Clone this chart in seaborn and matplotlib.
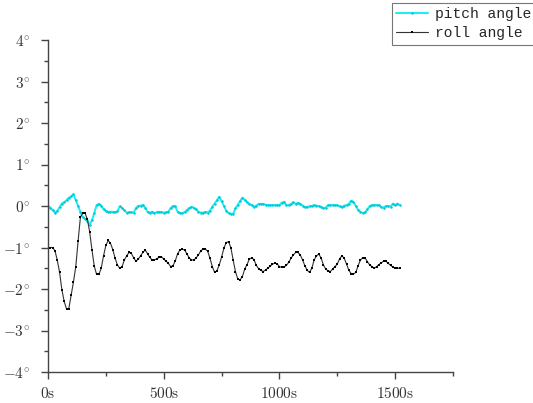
import numpy as np
import pandas as pd
import seaborn as sns
import matplotlib
matplotlib.use("Agg")
import matplotlib.pyplot as plt
from matplotlib.ticker import MultipleLocator

# ----- Data (one sample every 10 s) ----- #
time_s = list(range(0, 1530, 10))

pitch_deg = [
    0.0, -0.04, -0.1, -0.16, -0.12, -0.03, 0.06, 0.09, 0.14, 0.2,
    0.23, 0.28, 0.14, 0.0, -0.14, -0.27, -0.31, -0.36, -0.45, -0.34,
    -0.17, 0.02, 0.05, 0.01, -0.08, -0.12, -0.14, -0.14, -0.14, -0.15,
    -0.13, -0.01, -0.05, -0.1, -0.16, -0.15, -0.15, -0.16, -0.05, 0.0,
    0.01, 0.02, -0.04, -0.14, -0.16, -0.14, -0.17, -0.15, -0.14, -0.15,
    -0.16, -0.15, -0.14, -0.05, 0.0, -0.01, -0.14, -0.17, -0.17, -0.15,
    -0.1, -0.05, -0.02, -0.04, -0.08, -0.14, -0.16, -0.16, -0.14, -0.16,
    -0.11, -0.02, 0.06, 0.14, 0.22, 0.12, 0.0, -0.11, -0.17, -0.19,
    -0.19, -0.06, 0.03, 0.12, 0.2, 0.15, 0.09, 0.05, 0.02, -0.02,
    0.01, 0.05, 0.05, 0.05, 0.03, 0.02, 0.02, 0.02, 0.02, 0.02,
    0.02, 0.08, 0.1, 0.02, 0.02, 0.05, 0.09, 0.05, 0.08, 0.05,
    0.01, -0.03, -0.02, -0.01, 0.0, 0.02, 0.01, 0.0, -0.02, -0.05,
    -0.04, 0.02, 0.02, 0.02, 0.02, 0.02, -0.01, -0.03, 0.01, 0.02,
    0.05, 0.13, 0.1, 0.0, -0.09, -0.14, -0.17, -0.15, -0.08, 0.0,
    0.02, 0.02, 0.02, 0.02, -0.03, -0.04, 0.0, 0.0, -0.02, 0.06,
    0.02, 0.06, 0.02,
]

roll_deg = [
    -1.0, -1.0, -1.0, -1.08, -1.3, -1.6, -2.02, -2.3, -2.48, -2.47,
    -2.15, -1.83, -1.46, -0.85, -0.27, -0.17, -0.17, -0.32, -0.62, -1.06,
    -1.45, -1.65, -1.65, -1.5, -1.2, -0.95, -0.83, -0.9, -1.05, -1.26,
    -1.42, -1.5, -1.46, -1.3, -1.2, -1.12, -1.14, -1.25, -1.33, -1.28,
    -1.2, -1.12, -1.06, -1.15, -1.24, -1.3, -1.3, -1.27, -1.24, -1.22,
    -1.28, -1.33, -1.38, -1.46, -1.44, -1.32, -1.15, -1.06, -1.04, -1.06,
    -1.15, -1.25, -1.3, -1.3, -1.25, -1.18, -1.08, -1.04, -1.04, -1.09,
    -1.26, -1.46, -1.6, -1.56, -1.42, -1.23, -1.02, -0.88, -0.86, -1.0,
    -1.3, -1.58, -1.76, -1.78, -1.7, -1.52, -1.41, -1.28, -1.25, -1.29,
    -1.43, -1.51, -1.55, -1.58, -1.54, -1.5, -1.45, -1.4, -1.38, -1.39,
    -1.46, -1.48, -1.47, -1.43, -1.36, -1.26, -1.18, -1.12, -1.12, -1.18,
    -1.3, -1.44, -1.55, -1.6, -1.5, -1.3, -1.2, -1.16, -1.25, -1.42,
    -1.52, -1.56, -1.58, -1.52, -1.46, -1.4, -1.27, -1.2, -1.26, -1.4,
    -1.55, -1.63, -1.64, -1.6, -1.44, -1.3, -1.25, -1.25, -1.34, -1.42,
    -1.46, -1.5, -1.46, -1.41, -1.37, -1.33, -1.33, -1.38, -1.43, -1.47,
    -1.5, -1.5, -1.5,
]

y_ticks = [-4, -3, -2, -1, 0, 1, 2, 3, 4]
x_ticks = [0, 500, 1000, 1500]

df = pd.DataFrame({"t": time_s, "pitch": pitch_deg, "roll": roll_deg})

# ----- Style ----- #
sns.set_style("ticks")
plt.rcParams["mathtext.fontset"] = "cm"
plt.rcParams["font.family"] = ["DejaVu Serif"]

fig = plt.figure(figsize=(5.33, 4.03), dpi=100)
ax = fig.add_axes([48 / 533, 31 / 403, 405 / 533, 332 / 403])

sns.lineplot(data=df, x="t", y="pitch", ax=ax, color="#18eef4", lw=1.4,
             marker="o", markersize=1.8, markeredgewidth=0,
             markerfacecolor="#00c8d8", label="pitch angle")
sns.lineplot(data=df, x="t", y="roll", ax=ax, color="#333333", lw=0.8,
             marker="s", markersize=1.7, markeredgewidth=0,
             markerfacecolor="black", label="roll angle")

ax.set_xlim(0, 1750)
ax.set_ylim(-4, 4)
ax.set_xlabel("")
ax.set_ylabel("")

ax.set_yticks(y_ticks)
ax.set_yticklabels([r"$%d^{\circ}$" % v for v in y_ticks])
ax.set_xticks(x_ticks)
ax.set_xticklabels([r"$%d\mathrm{s}$" % v for v in x_ticks])
ax.xaxis.set_minor_locator(MultipleLocator(250))
ax.yaxis.set_minor_locator(MultipleLocator(0.5))

for side in ["top", "right"]:
    ax.spines[side].set_visible(False)
for side in ["left", "bottom"]:
    ax.spines[side].set_color("#444444")
    ax.spines[side].set_linewidth(1.0)

ax.tick_params(axis="y", which="major", length=5, width=1.0, pad=8,
               color="#444444", labelsize=11, labelcolor="#333333")
ax.tick_params(axis="x", which="major", length=5, width=1.0, pad=5,
               color="#444444", labelsize=11, labelcolor="#333333")
ax.tick_params(axis="both", which="minor", length=3, width=1.0,
               color="#444444")

leg = ax.legend(loc="upper left", bbox_to_anchor=(392 / 533, 1 - 3 / 403),
                bbox_transform=fig.transFigure, borderaxespad=0,
                frameon=True, fancybox=False, handlelength=2.2,
                handletextpad=0.45, borderpad=0.3, labelspacing=0.35,
                prop={"family": "Liberation Mono", "size": 10.5})
leg.get_frame().set_edgecolor("#555555")
leg.get_frame().set_linewidth(0.8)

fig.savefig("out.png", dpi=100)
